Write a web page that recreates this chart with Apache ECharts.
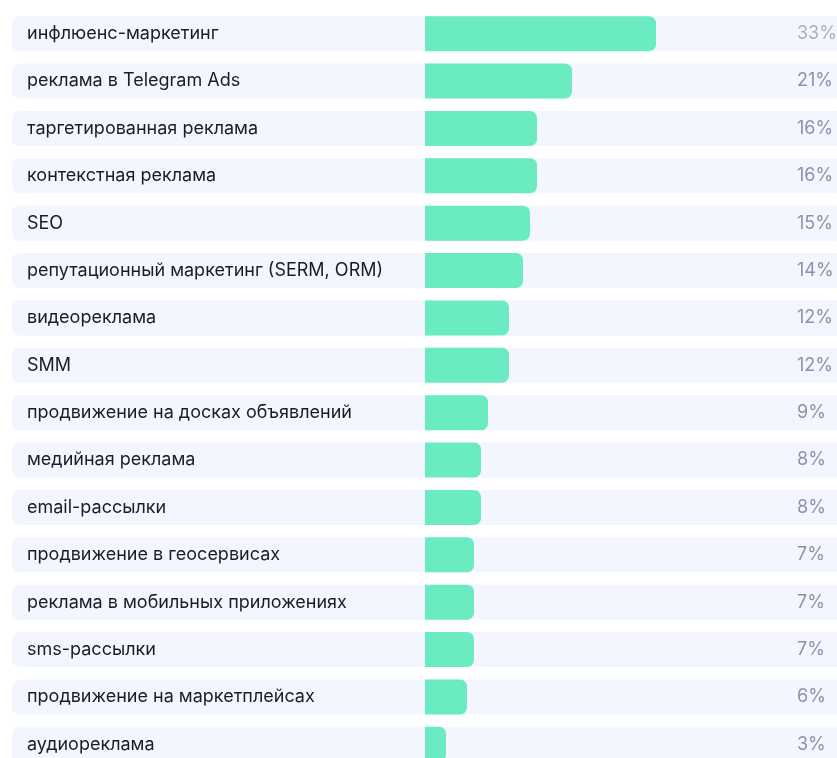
<!DOCTYPE html>
<html>
<head>
<meta charset="utf-8">
<script src="https://cdn.jsdelivr.net/npm/echarts@6/dist/echarts.min.js"></script>
<style>
    html, body { margin: 0; padding: 0; background: #fff; }
    #chart { width: 837px; height: 758px; }
</style>
</head>
<body>
<div id="chart"></div>
<script>
// категории
const categories = [
    'инфлюенс-маркетинг',
    'реклама в Telegram Ads',
    'таргетированная реклама',
    'контекстная реклама',
    'SEO',
    'репутационный маркетинг (SERM, ORM)',
    'видеореклама',
    'SMM',
    'продвижение на досках объявлений',
    'медийная реклама',
    'email-рассылки',
    'продвижение в геосервисах',
    'реклама в мобильных приложениях',
    'sms-рассылки',
    'продвижение на маркетплейсах',
    'аудиореклама'
];
// доли, %
const values = [33, 21, 16, 16, 15, 14, 12, 12, 9, 8, 8, 7, 7, 7, 6, 3];

const fontFamily = 'Inter, "Noto Sans", sans-serif';

const chart = echarts.init(document.getElementById('chart'));

// фон строк
const bgData = values.map((v, i) => ({
    value: 1,
    label: { color: i === 0 ? '#aeaeb6' : '#8c91ad' }
}));

chart.setOption({
    animation: false,
    grid: [
        { left: 12, top: 10, width: 900, height: 758, outerBoundsMode: 'none' },
        { left: 425, top: 10, width: 700, height: 758, outerBoundsMode: 'none' }
    ],
    xAxis: [
        { gridIndex: 0, type: 'value', min: 0, max: 1, show: false },
        { gridIndex: 1, type: 'value', min: 0, max: 100, show: false }
    ],
    yAxis: [
        {
            gridIndex: 0,
            type: 'category',
            data: categories,
            inverse: true,
            axisLine: { show: false },
            axisTick: { show: false },
            axisLabel: {
                inside: true,
                margin: 15,
                align: 'left',
                fontSize: 18,
                color: '#1c1c28',
                fontFamily: fontFamily
            },
            z: 10
        },
        {
            gridIndex: 1,
            type: 'category',
            data: categories,
            inverse: true,
            show: false
        }
    ],
    series: [
        {
            type: 'bar',
            xAxisIndex: 0,
            yAxisIndex: 0,
            data: bgData,
            barWidth: 35,
            silent: true,
            itemStyle: { color: '#f3f6fe', borderRadius: [7, 0, 0, 7] },
            label: {
                show: true,
                position: [785, '50%'],
                align: 'left',
                verticalAlign: 'middle',
                fontSize: 18,
                fontFamily: fontFamily,
                formatter: p => values[p.dataIndex] + '%'
            },
            z: 1
        },
        {
            type: 'bar',
            xAxisIndex: 1,
            yAxisIndex: 1,
            data: values,
            barWidth: 35,
            itemStyle: { color: '#6aebc1', borderRadius: [0, 7, 7, 0] },
            z: 2
        }
    ]
});

window.addEventListener('resize', () => {
    chart.resize();
});
</script>
</body>
</html>
